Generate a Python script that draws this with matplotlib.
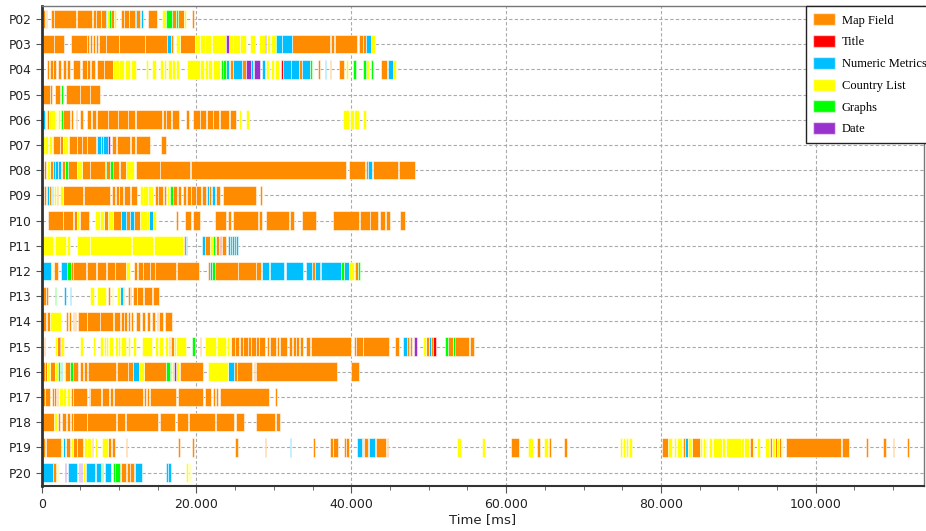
import matplotlib
matplotlib.use("Agg")
import matplotlib.pyplot as plt
from matplotlib.patches import Patch
from matplotlib.ticker import MultipleLocator, FuncFormatter

# AOI categories and colours
categories = ["Map Field", "Title", "Numeric Metrics", "Country List", "Graphs", "Date"]
codes = ["M", "T", "N", "C", "G", "D"]
colors = ["#FF8C00", "#FF0000", "#00BFFF", "#FFFF00", "#00FF00", "#9932CC"]

participants = ["P02", "P03", "P04", "P05", "P06", "P07", "P08", "P09", "P10", "P11",
                "P12", "P13", "P14", "P15", "P16", "P17", "P18", "P19", "P20"]

# fixations per participant: (start ms, end ms, category code)
p02 = [(200, 450, 'M'), (500, 650, 'M'), (1150, 1600, 'M'), (1600, 4400, 'M'), (4600, 6550, 'M'),
       (6650, 7000, 'M'), (7050, 7700, 'M'), (7700, 8300, 'M'), (8300, 8450, 'N'), (8450, 8700, 'C'),
       (8700, 9000, 'G'), (9000, 9300, 'M'), (9300, 9650, 'C'), (10200, 10700, 'M'), (10700, 11300, 'M'),
       (11300, 12000, 'M'), (12000, 12150, 'N'), (12150, 12650, 'M'), (12850, 13100, 'N'), (13700, 14900, 'M'),
       (15600, 16100, 'C'), (16100, 16900, 'G'), (16900, 17400, 'M'), (17400, 17600, 'G'), (17600, 18350, 'M'),
       (18350, 18700, 'C'), (19450, 19650, 'M')]
p03 = [(200, 1600, 'M'), (1650, 2880, 'M'), (3740, 5890, 'M'), (5890, 6100, 'M'), (6200, 6500, 'M'),
       (6600, 6900, 'M'), (7000, 7300, 'M'), (7350, 8300, 'M'), (8350, 10000, 'M'), (10050, 13300, 'M'),
       (13350, 16250, 'M'), (16250, 16750, 'N'), (16750, 17000, 'M'), (17300, 17850, 'C'), (17850, 19750, 'M'),
       (19750, 20400, 'C'), (20450, 21100, 'C'), (21150, 21900, 'C'), (22050, 23850, 'C'), (23850, 24200, 'D'),
       (24200, 24700, 'C'), (24700, 25600, 'C'), (25600, 26450, 'C'), (26950, 27500, 'C'), (28050, 28800, 'C'),
       (28900, 29000, 'D'), (29100, 29450, 'C'), (29650, 30100, 'C'), (30100, 30300, 'G'), (30300, 31100, 'N'),
       (31100, 32350, 'N'), (32400, 37200, 'M'), (37400, 37700, 'M'), (37850, 40700, 'M'), (41050, 41550, 'M'),
       (41550, 41900, 'M'), (41900, 42550, 'N'), (42550, 43100, 'C')]
p04 = [(500, 620, 'G'), (650, 900, 'M'), (1050, 1400, 'M'), (1500, 1900, 'M'), (2150, 2550, 'M'),
       (2800, 3200, 'M'), (3250, 3700, 'M'), (4000, 4900, 'M'), (5150, 5850, 'M'), (5900, 6300, 'M'),
       (6400, 6850, 'M'), (7100, 8000, 'M'), (8000, 9150, 'M'), (9250, 10000, 'C'), (10050, 10700, 'C'),
       (10750, 11350, 'C'), (11600, 12250, 'C'), (13450, 13750, 'C'), (14200, 14800, 'C'), (15250, 15700, 'C'),
       (15750, 16100, 'C'), (16350, 16800, 'C'), (16850, 17200, 'C'), (17400, 17800, 'C'), (18800, 20400, 'C'),
       (20450, 21000, 'C'), (21050, 21500, 'C'), (21500, 22000, 'C'), (22100, 23000, 'C'), (23200, 23450, 'G'),
       (23450, 23750, 'G'), (23850, 24250, 'N'), (24300, 24700, 'M'), (24700, 25900, 'N'), (25900, 26400, 'M'),
       (26450, 27050, 'D'), (27100, 27350, 'N'), (27400, 28150, 'D'), (28400, 28900, 'N'), (29000, 29350, 'C'),
       (29650, 30000, 'C'), (30100, 30700, 'C'), (30950, 31150, 'T'), (31150, 32250, 'N'), (32250, 33300, 'N'),
       (33300, 33650, 'M'), (33650, 34600, 'N'), (34600, 34950, 'G'), (35700, 35900, 'M'), (36550, 36750, 'N'),
       (37200, 37400, 'M'), (38450, 39100, 'M'), (39350, 39550, 'C'), (40200, 40550, 'G'), (41500, 41900, 'G'),
       (41900, 42250, 'C'), (42550, 42850, 'G'), (43850, 44600, 'M'), (44700, 45350, 'N'), (45400, 45800, 'C')]
p05 = [(100, 1050, 'M'), (1100, 1300, 'M'), (1700, 2350, 'M'), (2450, 2700, 'G'), (3200, 4900, 'M'),
       (5000, 6200, 'M'), (6250, 7500, 'M')]
p06 = [(100, 400, 'N'), (450, 600, 'C'), (650, 950, 'M'), (1000, 1700, 'C'), (1750, 1900, 'C'),
       (2150, 2400, 'C'), (2450, 2750, 'G'), (2800, 3650, 'M'), (3850, 4050, 'M'), (4450, 4600, 'M'),
       (4950, 5350, 'M'), (5900, 6400, 'M'), (6450, 7050, 'M'), (7100, 8550, 'M'), (8600, 9850, 'M'),
       (9900, 11150, 'M'), (11200, 12000, 'M'), (12250, 15600, 'M'), (15650, 16000, 'M'), (16050, 16750, 'M'),
       (16800, 17800, 'M'), (18700, 19000, 'M'), (19550, 20400, 'M'), (20450, 21250, 'M'), (21300, 22100, 'M'),
       (22150, 22950, 'M'), (23000, 24250, 'M'), (24300, 25150, 'M'), (25550, 25800, 'C'), (26450, 26800, 'C'),
       (38900, 39750, 'C'), (39800, 40300, 'C'), (40400, 41000, 'C'), (41450, 41900, 'C')]
p07 = [(100, 400, 'C'), (450, 850, 'C'), (900, 1300, 'C'), (1400, 2350, 'M'), (2400, 2750, 'M'),
       (2800, 3400, 'C'), (3550, 4500, 'M'), (4550, 5150, 'M'), (5200, 5800, 'M'), (5850, 7050, 'M'),
       (7100, 7600, 'N'), (7650, 7950, 'N'), (7950, 8550, 'N'), (8600, 8800, 'D'), (9050, 9650, 'M'),
       (9750, 11400, 'M'), (11600, 12000, 'M'), (12150, 14050, 'M'), (15450, 16100, 'M')]
p08 = [(300, 550, 'M'), (650, 1050, 'C'), (1100, 1500, 'M'), (1500, 1700, 'N'), (1750, 2100, 'N'),
       (2150, 2550, 'N'), (2600, 3000, 'M'), (3000, 3400, 'G'), (3450, 4500, 'M'), (4600, 5150, 'C'),
       (5200, 6200, 'M'), (6250, 8150, 'M'), (8150, 8350, 'G'), (8350, 8800, 'M'), (8800, 9200, 'G'),
       (9250, 10000, 'M'), (10100, 10850, 'M'), (10950, 11900, 'C'), (12150, 15250, 'M'), (15300, 19200, 'M'),
       (19250, 39300, 'M'), (39650, 41800, 'M'), (41900, 42150, 'M'), (42150, 42700, 'N'), (42850, 46000, 'M'),
       (46200, 48200, 'M')]
p09 = [(100, 300, 'M'), (350, 600, 'M'), (650, 950, 'N'), (1000, 1250, 'M'), (1300, 1500, 'N'),
       (1550, 1900, 'C'), (1950, 2150, 'M'), (2350, 2700, 'C'), (2700, 5350, 'M'), (5450, 8800, 'M'),
       (9050, 9450, 'M'), (9600, 10000, 'M'), (10050, 10500, 'M'), (10600, 11350, 'M'), (11600, 12300, 'M'),
       (12700, 13100, 'C'), (13150, 13700, 'C'), (13750, 14400, 'C'), (14600, 15000, 'M'), (15050, 15650, 'M'),
       (15750, 16100, 'M'), (16150, 16500, 'C'), (16550, 16950, 'G'), (17000, 17500, 'M'), (17550, 18050, 'M'),
       (18200, 18700, 'M'), (18800, 19300, 'M'), (19350, 19950, 'M'), (20000, 20600, 'M'), (20650, 21250, 'M'),
       (21300, 21600, 'N'), (21650, 21900, 'M'), (21950, 22450, 'N'), (22500, 23000, 'M'), (23450, 27650, 'M'),
       (28250, 28500, 'M')]
p10 = [(850, 2700, 'M'), (2800, 4050, 'M'), (4150, 4600, 'M'), (4600, 4850, 'C'), (4900, 6150, 'M'),
       (6900, 7500, 'C'), (7550, 8000, 'C'), (8050, 8600, 'M'), (8600, 9250, 'C'), (9250, 10300, 'M'),
       (10300, 10850, 'N'), (10900, 11400, 'M'), (11400, 11900, 'N'), (11900, 12650, 'M'), (12700, 13550, 'C'),
       (13600, 13850, 'C'), (13900, 14400, 'N'), (14400, 14800, 'C'), (17400, 17550, 'M'), (18500, 19350, 'M'),
       (19500, 20400, 'M'), (22350, 23850, 'M'), (24050, 24500, 'M'), (24700, 27950, 'M'), (28100, 28400, 'M'),
       (28950, 31950, 'M'), (32100, 32550, 'M'), (33650, 35450, 'M'), (37600, 40950, 'M'), (41150, 42350, 'M'),
       (42450, 43500, 'M'), (43650, 44300, 'M'), (44450, 45000, 'M'), (46350, 46900, 'M')]
p11 = [(100, 1500, 'C'), (1550, 1700, 'C'), (1750, 3200, 'C'), (3300, 3700, 'C'), (4600, 6200, 'C'),
       (6300, 11600, 'C'), (11650, 14400, 'C'), (14500, 18250, 'C'), (18350, 18600, 'M'), (18600, 18700, 'T'),
       (18700, 18800, 'N'), (20650, 21050, 'N'), (21050, 21700, 'M'), (21700, 22100, 'C'), (22150, 22350, 'G'),
       (22550, 22950, 'M'), (23000, 23200, 'T'), (23350, 23850, 'M'), (24050, 24300, 'N'), (24300, 24550, 'M'),
       (24550, 24900, 'N'), (24900, 25150, 'M'), (25150, 25400, 'N')]
p12 = [(100, 1250, 'N'), (1300, 1500, 'C'), (1600, 2150, 'M'), (2450, 3300, 'N'), (3300, 3850, 'G'),
       (3850, 4050, 'M'), (4100, 5700, 'M'), (5800, 7050, 'M'), (7100, 8350, 'M'), (8400, 9450, 'M'),
       (9500, 10950, 'M'), (10950, 11350, 'C'), (11900, 12300, 'M'), (12450, 13100, 'M'), (13150, 13950, 'M'),
       (14000, 14600, 'M'), (14650, 17400, 'M'), (17450, 20300, 'M'), (21500, 21700, 'M'), (21700, 22050, 'N'),
       (22050, 22350, 'G'), (22350, 25350, 'M'), (25400, 27700, 'M'), (27750, 28350, 'M'), (28500, 29350, 'N'),
       (29450, 31250, 'N'), (31500, 33800, 'N'), (34200, 34950, 'N'), (34950, 35250, 'M'), (35250, 35900, 'N'),
       (35900, 36100, 'M'), (36100, 38700, 'N'), (38700, 39100, 'G'), (39100, 39700, 'N'), (39700, 40400, 'C'),
       (40450, 40850, 'M'), (40850, 41150, 'G')]
p13 = [(200, 500, 'M'), (550, 850, 'M'), (1700, 1900, 'G'), (2850, 3200, 'N'), (3650, 3850, 'N'),
       (6250, 6750, 'C'), (7200, 8300, 'C'), (8600, 8800, 'M'), (9050, 9250, 'C'), (9750, 10100, 'C'),
       (10150, 10450, 'N'), (10450, 10600, 'M'), (11200, 11400, 'M'), (11450, 11600, 'M'), (11750, 12350, 'M'),
       (12350, 13100, 'M'), (13200, 14300, 'M'), (14400, 15150, 'M')]
p14 = [(100, 600, 'M'), (650, 1050, 'M'), (1050, 2550, 'C'), (3200, 3450, 'M'), (3500, 3750, 'M'),
       (4000, 4200, 'M'), (4250, 4450, 'M'), (4700, 5800, 'M'), (5850, 7500, 'M'), (7550, 9250, 'M'),
       (9350, 10100, 'M'), (10300, 10600, 'M'), (10700, 11000, 'M'), (11100, 11400, 'M'), (11600, 11800, 'M'),
       (12250, 12650, 'M'), (12900, 13300, 'M'), (13550, 13950, 'M'), (14200, 14600, 'M'), (14850, 15050, 'M'),
       (15200, 15700, 'M'), (15900, 16900, 'M')]
p15 = [(300, 430, 'M'), (1700, 1950, 'C'), (1950, 2350, 'M'), (2350, 2550, 'T'), (2550, 2850, 'C'),
       (4950, 5300, 'C'), (6650, 6850, 'C'), (7500, 7950, 'C'), (8000, 8250, 'C'), (8300, 8600, 'C'),
       (8750, 9250, 'C'), (9450, 9800, 'C'), (9850, 10100, 'C'), (10300, 10950, 'C'), (11200, 11450, 'C'),
       (11800, 12250, 'C'), (13000, 14300, 'C'), (14600, 15050, 'C'), (15200, 15700, 'C'), (15900, 16350, 'C'),
       (16450, 16600, 'M'), (16650, 17050, 'M'), (17050, 17300, 'C'), (17400, 18600, 'C'), (19450, 19750, 'G'),
       (20400, 20600, 'M'), (21050, 22550, 'C'), (22600, 23850, 'C'), (23900, 24250, 'C'), (24300, 24500, 'C'),
       (24500, 24950, 'M'), (24950, 25550, 'M'), (25650, 25950, 'M'), (26000, 26650, 'M'), (26700, 27050, 'M'),
       (27100, 27700, 'M'), (27750, 28050, 'M'), (28100, 28900, 'M'), (29100, 29400, 'M'), (29450, 30300, 'M'),
       (30350, 30700, 'M'), (30750, 31650, 'M'), (31950, 32350, 'M'), (32450, 32800, 'M'), (32900, 33300, 'M'),
       (33400, 33750, 'M'), (34100, 34600, 'M'), (34800, 39950, 'M'), (40300, 40550, 'M'), (40650, 41450, 'M'),
       (41550, 44900, 'M'), (45700, 46200, 'M'), (46650, 47150, 'N'), (47150, 47500, 'M'), (47600, 47850, 'M'),
       (47950, 48150, 'C'), (48150, 48450, 'D'), (49250, 49650, 'C'), (49650, 50050, 'M'), (50100, 50300, 'N'),
       (50300, 50500, 'M'), (50600, 50950, 'T'), (52150, 52550, 'G'), (52550, 53150, 'M'), (53150, 53450, 'G'),
       (53450, 55250, 'M'), (55300, 55900, 'M')]
p16 = [(100, 400, 'M'), (450, 700, 'M'), (750, 1050, 'C'), (1050, 1700, 'M'), (1750, 2100, 'C'),
       (2150, 2400, 'G'), (2450, 2650, 'N'), (2700, 2850, 'C'), (3000, 3600, 'M'), (3650, 4000, 'G'),
       (4000, 4700, 'M'), (4950, 5400, 'M'), (5450, 5850, 'M'), (6000, 9650, 'M'), (9700, 11150, 'M'),
       (11200, 11800, 'M'), (11800, 12600, 'N'), (12600, 13200, 'C'), (13200, 16000, 'M'), (16000, 16550, 'G'),
       (16550, 16750, 'N'), (16800, 17050, 'C'), (17050, 17300, 'D'), (17350, 17800, 'C'), (17850, 20900, 'M'),
       (21500, 24050, 'C'), (24100, 24800, 'N'), (24850, 25200, 'M'), (25250, 27200, 'M'), (27400, 27600, 'M'),
       (27650, 38100, 'M'), (40000, 41050, 'M')]
p17 = [(100, 400, 'M'), (450, 1050, 'M'), (1300, 1550, 'M'), (1600, 1900, 'M'), (1950, 2150, 'M'),
       (2300, 2750, 'C'), (2800, 3200, 'C'), (3250, 3700, 'C'), (3750, 4050, 'M'), (4100, 5850, 'M'),
       (6050, 6250, 'M'), (6300, 7700, 'M'), (7850, 8700, 'M'), (8800, 9200, 'M'), (9350, 13100, 'M'),
       (13200, 13500, 'M'), (13550, 13850, 'M'), (13950, 17400, 'M'), (17600, 20900, 'M'), (21050, 21900, 'M'),
       (22150, 22450, 'M'), (22500, 22750, 'M'), (23000, 29350, 'M'), (30200, 30400, 'M')]
p18 = [(200, 1550, 'M'), (1600, 2000, 'C'), (2050, 2350, 'M'), (2450, 2550, 'M'), (2600, 3100, 'M'),
       (3250, 3650, 'M'), (3750, 4050, 'M'), (4100, 5800, 'M'), (5850, 9550, 'M'), (9700, 10750, 'M'),
       (10900, 15000, 'M'), (15350, 17200, 'M'), (17450, 18900, 'M'), (19050, 22350, 'M'), (22500, 24900, 'M'),
       (25050, 26200, 'M'), (27700, 30200, 'M'), (30250, 30750, 'M')]
p19 = [(200, 430, 'M'), (550, 2550, 'M'), (2600, 2800, 'C'), (2800, 3000, 'N'), (3200, 3650, 'M'),
       (3750, 4000, 'C'), (4000, 4500, 'M'), (4600, 5350, 'M'), (5450, 5850, 'C'), (5900, 6400, 'C'),
       (6450, 6650, 'M'), (6900, 7100, 'C'), (7750, 8600, 'C'), (8600, 9000, 'M'), (9050, 9450, 'M'),
       (10850, 11050, 'M'), (17650, 17900, 'M'), (19450, 19650, 'M'), (24950, 25350, 'M'), (28800, 28950, 'M'),
       (32050, 32250, 'N'), (35050, 35250, 'M'), (37200, 37600, 'M'), (37650, 38250, 'M'), (39000, 39300, 'M'),
       (39350, 39750, 'M'), (40700, 41400, 'N'), (41400, 41550, 'M'), (41600, 42100, 'M'), (42250, 43000, 'N'),
       (43000, 43200, 'M'), (43250, 44500, 'M'), (44550, 44750, 'M'), (53600, 54150, 'C'), (56900, 57300, 'C'),
       (60650, 61700, 'M'), (62800, 63500, 'C'), (64050, 64350, 'M'), (64950, 65450, 'C'), (65500, 65800, 'M'),
       (67500, 67800, 'M'), (74700, 74950, 'C'), (75050, 75300, 'C'), (75450, 75700, 'C'), (75850, 76300, 'C'),
       (80100, 80850, 'M'), (80950, 81450, 'C'), (81700, 82000, 'C'), (82050, 82750, 'C'), (82800, 83100, 'M'),
       (83100, 83550, 'N'), (83550, 83950, 'C'), (84000, 85000, 'M'), (85100, 85350, 'C'), (85400, 85700, 'C'),
       (85800, 86000, 'C'), (86150, 86600, 'C'), (86700, 87900, 'C'), (87950, 88300, 'C'), (88350, 90300, 'C'),
       (90400, 90700, 'C'), (90750, 91350, 'C'), (91550, 91850, 'M'), (91850, 92000, 'C'), (92450, 92850, 'C'),
       (93500, 93950, 'C'), (94000, 94150, 'M'), (94150, 94400, 'M'), (94400, 94700, 'C'), (94750, 95000, 'M'),
       (95000, 95250, 'C'), (95250, 95550, 'M'), (95600, 95750, 'C'), (96100, 103200, 'M'), (103350, 104250, 'M'),
       (106550, 106700, 'M'), (108650, 109100, 'M'), (109950, 110100, 'M'), (111800, 112100, 'M')]
p20 = [(100, 1400, 'N'), (1450, 1900, 'M'), (1950, 2150, 'C'), (2200, 2300, 'M'), (3000, 3100, 'D'),
       (3450, 4500, 'N'), (4850, 5000, 'D'), (5050, 5250, 'D'), (5300, 5550, 'C'), (5700, 6850, 'N'),
       (7000, 7600, 'N'), (7600, 7750, 'M'), (7750, 7950, 'G'), (8150, 9000, 'N'), (9150, 9450, 'G'),
       (9450, 10150, 'G'), (10300, 10950, 'M'), (11000, 11350, 'M'), (11400, 11900, 'M'), (12050, 12900, 'N'),
       (16050, 16350, 'N'), (16350, 16650, 'N'), (18600, 18900, 'C'), (19050, 19200, 'C')]

rows = [p02, p03, p04, p05, p06, p07, p08, p09, p10, p11,
        p12, p13, p14, p15, p16, p17, p18, p19, p20]

color_of = dict(zip(codes, colors))
bar_h = 0.74
edge = (1, 1, 1, 0.55)

fig = plt.figure(figsize=(9.26, 5.31), dpi=100)
ax = fig.add_axes([0.045, 0.085, 0.953, 0.904])

for i, segs in enumerate(rows):
    for code in codes:
        xr = [(s, e - s) for s, e, c in segs if c == code]
        if xr:
            ax.broken_barh(xr, (i - bar_h / 2, bar_h), facecolors=color_of[code],
                           edgecolor=edge, linewidth=0.7, zorder=2)

ax.set_xlim(0, 114000)
ax.set_ylim(18.53, -0.52)
ax.set_yticks(range(len(participants)))
ax.set_yticklabels(participants)

ax.xaxis.set_major_locator(MultipleLocator(20000))
ax.xaxis.set_minor_locator(MultipleLocator(5000))
ax.xaxis.set_major_formatter(FuncFormatter(lambda v, p: f"{v:,.0f}".replace(",", ".")))
ax.tick_params(axis='x', which='major', length=5, color='#555555', labelsize=9, labelcolor='#222222')
ax.tick_params(axis='x', which='minor', length=3, color='#555555')
ax.tick_params(axis='y', length=4, color='#555555', labelsize=8.8, labelcolor='#222222')

ax.set_axisbelow(True)
ax.grid(True, which='major', linestyle=(0, (3, 2)), color='#aaaaaa', linewidth=0.8)

ax.spines['left'].set_color('#333333')
ax.spines['left'].set_linewidth(2)
ax.spines['bottom'].set_color('#333333')
ax.spines['bottom'].set_linewidth(1.5)
for s in ['top', 'right']:
    ax.spines[s].set_color('#777777')
    ax.spines[s].set_linewidth(1)

ax.set_xlabel("Time [ms]", fontsize=9.5, color='#222222', labelpad=2)

# legend box starts at x=806px and runs off the right edge, like the original
handles = [Patch(facecolor=c, edgecolor=edge, label=l) for c, l in zip(colors, categories)]
leg = ax.legend(handles=handles, loc='upper left', bbox_to_anchor=(0.866, 1.0),
                borderaxespad=0, fancybox=False,
                prop={'family': 'Liberation Serif', 'size': 9}, labelspacing=0.68,
                handlelength=1.75, handleheight=1.1, handletextpad=0.5, borderpad=0.6)
leg.get_frame().set_edgecolor('#222222')
leg.get_frame().set_linewidth(1)
leg.get_frame().set_alpha(1)

plt.savefig('out.png', dpi=100)
